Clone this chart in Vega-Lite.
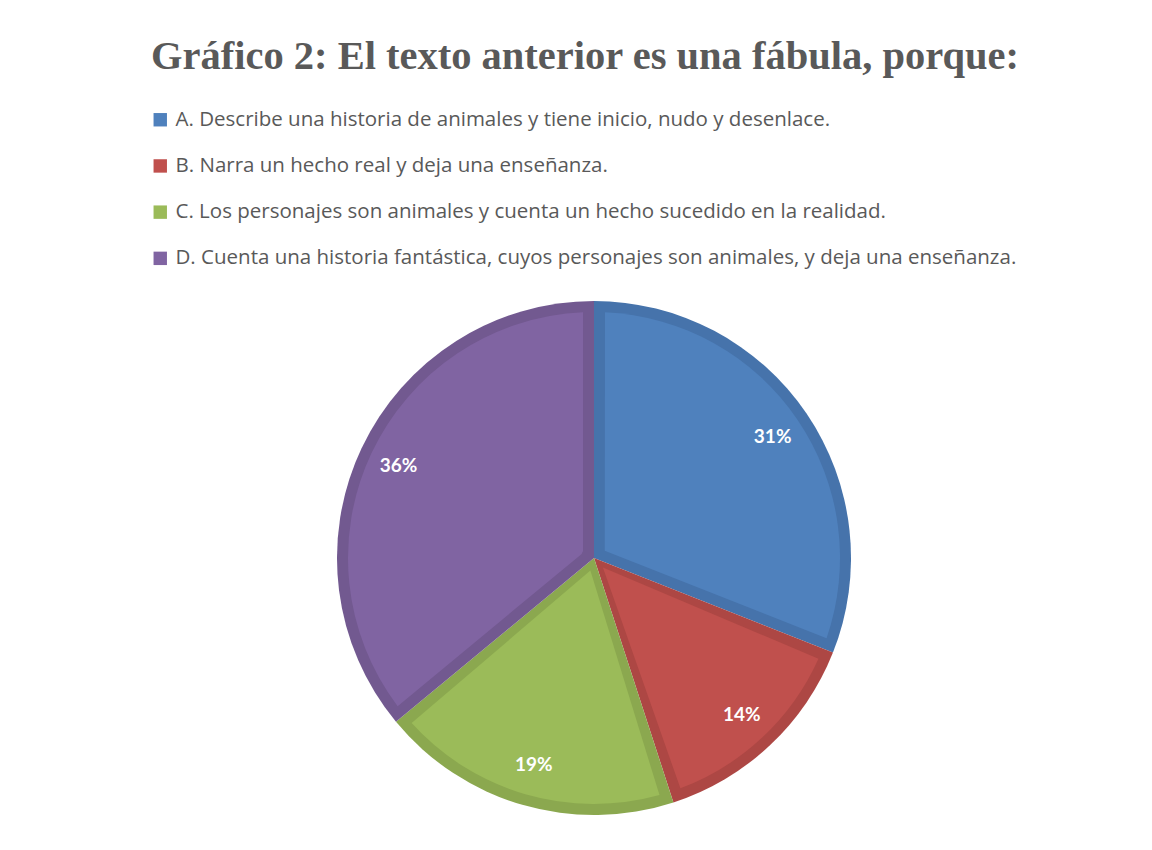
{
  "$schema": "https://vega.github.io/schema/vega-lite/v6.json",
  "width": 1116,
  "height": 584,
  "padding": {"left": 36, "top": 266, "right": 0, "bottom": 0},
  "autosize": {"type": "none"},
  "background": "white",
  "config": {"view": {"stroke": null}},
  "title": {
    "text": "Gráfico 2: El texto anterior es una fábula, porque:",
    "font": "Liberation Serif",
    "fontSize": 40.5,
    "fontWeight": "bold",
    "color": "#595959",
    "anchor": "middle",
    "frame": "group",
    "baseline": "alphabetic",
    "offset": 0,
    "dx": -9
  },
  "data": {
    "values": [
      {"letra": "A", "option": "A. Describe una historia de animales y tiene inicio, nudo y desenlace.", "pct": 0.31, "orden": 1},
      {"letra": "B", "option": "B. Narra un hecho real y deja una enseñanza.", "pct": 0.14, "orden": 2},
      {"letra": "C", "option": "C. Los personajes son animales y cuenta un hecho sucedido en la realidad.", "pct": 0.19, "orden": 3},
      {"letra": "D", "option": "D. Cuenta una historia fantástica, cuyos personajes son animales, y deja una enseñanza.", "pct": 0.36, "orden": 4}
    ]
  },
  "encoding": {
    "theta": {"field": "pct", "type": "quantitative", "stack": true},
    "order": {"field": "orden", "type": "ordinal"}
  },
  "layer": [
    {
      "mark": {"type": "arc", "outerRadius": 257},
      "encoding": {
        "fill": {
          "field": "letra",
          "type": "nominal",
          "sort": null,
          "scale": {"range": ["#4673AB", "#AD4744", "#8BA84F", "#725990"]},
          "legend": null
        }
      }
    },
    {
      "mark": {"type": "arc", "outerRadius": 246, "innerRadius": 13, "padAngle": 0.0893},
      "encoding": {
        "color": {
          "field": "option",
          "type": "nominal",
          "sort": null,
          "scale": {"range": ["#4F81BD", "#C0504D", "#9BBB59", "#8064A2"]},
          "legend": {
            "orient": "none",
            "legendX": 114,
            "legendY": -156.5,
            "title": null,
            "padding": 0,
            "symbolType": "square",
            "symbolSize": 180,
            "symbolStrokeWidth": 0,
            "labelFont": "Open Sans",
            "labelFontSize": 20.5,
            "labelColor": "#595959",
            "labelOffset": 5,
            "labelLimit": 0,
            "rowPadding": 25.2
          }
        }
      }
    },
    {
      "mark": {"type": "text", "radius": 216, "font": "Lato", "fontSize": 19, "fontWeight": "bold", "fill": "white"},
      "encoding": {
        "text": {"field": "pct", "type": "quantitative", "format": ".0%"}
      }
    }
  ]
}
